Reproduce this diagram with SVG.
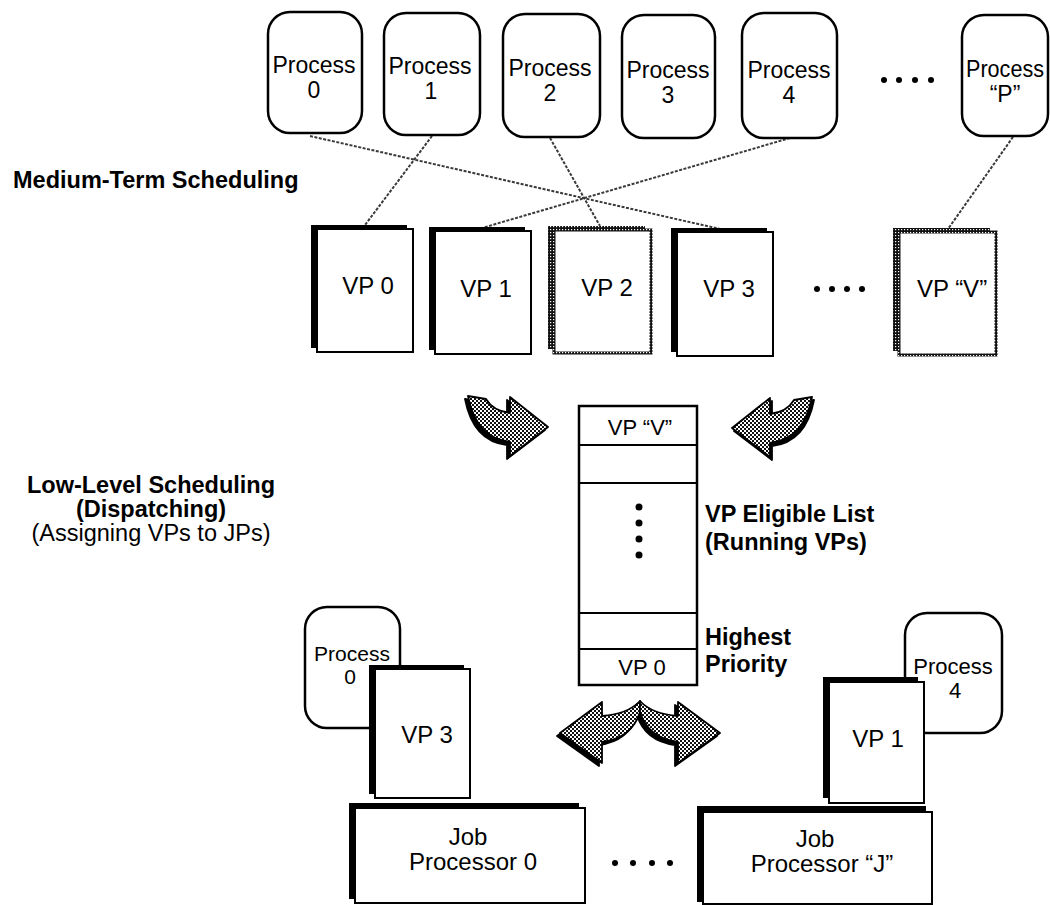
<svg xmlns="http://www.w3.org/2000/svg" width="1050" height="905" viewBox="0 0 1050 905">
  <defs>
    <!-- fine checker used for the halftone grey fills -->
    <pattern id="stip" width="4" height="4" patternUnits="userSpaceOnUse">
      <rect width="4" height="4" fill="#fff"/>
      <rect width="2" height="2" fill="#111"/>
      <rect x="2" y="2" width="2" height="2" fill="#111"/>
    </pattern>
    <!-- dark dotted texture for the stippled VP borders -->
    <pattern id="dotb" width="3" height="3" patternUnits="userSpaceOnUse">
      <rect width="3" height="3" fill="#111"/>
      <rect x="1" y="1" width="1.2" height="1.2" fill="#fff"/>
    </pattern>
  </defs>
  <style>
    text { font-family: "Liberation Sans", Arial, Helvetica, sans-serif; fill: #000; }
    .proc { fill: #fff; stroke: #000; stroke-width: 2.5; }
    .lbl { font-size: 24px; text-anchor: middle; }
    .plbl { font-size: 23px; text-anchor: middle; }
    .lbl22 { font-size: 22px; text-anchor: middle; }
    .lbl21 { font-size: 21px; text-anchor: middle; }
    .bold { font-weight: bold; font-size: 23.5px; }
    .back { fill: #000; }
    .front { fill: #fff; stroke: #000; stroke-width: 2; }
    .sback { fill: url(#dotb); }
    .sfront { fill: #fff; stroke: url(#dotb); stroke-width: 3; }
    .conn { fill: none; stroke: #3a3a3a; stroke-width: 2; stroke-dasharray: 3 1.5; }
    .dot { fill: #000; }
    .arr { fill: url(#stip); stroke: #000; stroke-width: 1.8; stroke-linejoin: round; }
    .arrsh { fill: #000; stroke: #000; stroke-width: 1.8; stroke-linejoin: round; }
    .list { fill: #fff; stroke: #000; stroke-width: 2.5; }
    .div { stroke: #000; stroke-width: 2; }
  </style>

  <!-- side captions -->
  <g id="captions">
    <text class="bold" x="13" y="188">Medium-Term Scheduling</text>
    <text class="bold" x="151" y="493" text-anchor="middle">Low-Level Scheduling</text>
    <text class="bold" x="151" y="517" text-anchor="middle">(Dispatching)</text>
    <text x="151" y="541" font-size="23.5" text-anchor="middle">(Assigning VPs to JPs)</text>
  </g>

  <!-- mapping lines between processes and virtual processors -->
  <g id="connectors">
    <line class="conn" x1="310" y1="136" x2="720" y2="229"/>
    <line class="conn" x1="432" y1="136" x2="365" y2="225"/>
    <line class="conn" x1="550" y1="138" x2="600" y2="226"/>
    <line class="conn" x1="790" y1="138" x2="482" y2="228"/>
    <line class="conn" x1="1013" y1="137" x2="948" y2="229"/>
  </g>

  <!-- processes -->
  <g id="process-0">
    <rect class="proc" x="268" y="12" width="94" height="121" rx="22"/>
    <text class="plbl" x="314" y="73">Process</text>
    <text class="plbl" x="314" y="98">0</text>
  </g>
  <g id="process-1">
    <rect class="proc" x="384" y="13" width="96" height="122" rx="22"/>
    <text class="plbl" x="430" y="74">Process</text>
    <text class="plbl" x="431" y="99">1</text>
  </g>
  <g id="process-2">
    <rect class="proc" x="503" y="14" width="97" height="123" rx="22"/>
    <text class="plbl" x="550" y="76">Process</text>
    <text class="plbl" x="550" y="101">2</text>
  </g>
  <g id="process-3">
    <rect class="proc" x="622" y="15" width="93" height="123" rx="22"/>
    <text class="plbl" x="668" y="78">Process</text>
    <text class="plbl" x="668" y="103">3</text>
  </g>
  <g id="process-4">
    <rect class="proc" x="742" y="13" width="95" height="125" rx="22"/>
    <text class="plbl" x="789" y="78">Process</text>
    <text class="plbl" x="789" y="103">4</text>
  </g>
  <g id="process-p">
    <rect class="proc" x="962" y="15" width="86" height="121" rx="22"/>
    <text class="plbl" x="1005" y="77" textLength="78" lengthAdjust="spacingAndGlyphs">Process</text>
    <text class="plbl" x="1005" y="102">&#8220;P&#8221;</text>
  </g>
  <g id="process-dots">
    <circle class="dot" cx="884" cy="80" r="3"/>
    <circle class="dot" cx="899" cy="80" r="3"/>
    <circle class="dot" cx="915" cy="80" r="3"/>
    <circle class="dot" cx="931" cy="80" r="3"/>
  </g>

  <!-- virtual processors -->
  <g id="vp-0">
    <rect class="back" x="311" y="225" width="96" height="123"/>
    <rect class="front" x="317" y="229" width="96" height="123"/>
    <text class="lbl" x="368" y="294">VP 0</text>
  </g>
  <g id="vp-1">
    <rect class="back" x="429" y="227" width="96" height="123"/>
    <rect class="front" x="435" y="231" width="96" height="123"/>
    <text class="lbl" x="486" y="297">VP 1</text>
  </g>
  <g id="vp-2">
    <rect class="sback" x="548" y="226" width="97" height="123"/>
    <rect class="sfront" x="554" y="230" width="97" height="123"/>
    <text class="lbl" x="607" y="296">VP 2</text>
  </g>
  <g id="vp-3">
    <rect class="back" x="671" y="228" width="96" height="124"/>
    <rect class="front" x="677" y="232" width="96" height="124"/>
    <text class="lbl" x="729" y="297">VP 3</text>
  </g>
  <g id="vp-v">
    <rect class="sback" x="893" y="228" width="97" height="123"/>
    <rect class="sfront" x="899" y="232" width="97" height="123"/>
    <text class="lbl" x="952" y="297">VP &#8220;V&#8221;</text>
  </g>
  <g id="vp-dots">
    <circle class="dot" cx="817" cy="289" r="3"/>
    <circle class="dot" cx="832" cy="289" r="3"/>
    <circle class="dot" cx="847" cy="289" r="3"/>
    <circle class="dot" cx="862" cy="289" r="3"/>
  </g>

  <!-- curved halftone arrows feeding the eligible list -->
  <g id="arrow-in-left">
    <path class="arrsh" transform="translate(-3,3)" d="M468,396 L486,399 Q493,411 510,413 L510,397 L548,427 L510,456 L510,442 Q476,438 468,396 Z"/>
    <path class="arr" d="M468,396 L486,399 Q493,411 510,413 L510,397 L548,427 L510,456 L510,442 Q476,438 468,396 Z"/>
  </g>
  <g id="arrow-in-right">
    <path class="arrsh" transform="translate(2,3)" d="M812,397 L794,400 Q787,412 770,414 L770,398 L732,428 L770,457 L770,443 Q804,439 812,397 Z"/>
    <path class="arr" d="M812,397 L794,400 Q787,412 770,414 L770,398 L732,428 L770,457 L770,443 Q804,439 812,397 Z"/>
  </g>

  <!-- VP eligible list -->
  <g id="eligible-list">
    <rect class="list" x="579" y="406" width="118" height="279"/>
    <line class="div" x1="579" y1="445" x2="697" y2="445"/>
    <line class="div" x1="579" y1="483" x2="697" y2="483"/>
    <line class="div" x1="579" y1="613" x2="697" y2="613"/>
    <line class="div" x1="579" y1="649" x2="697" y2="649"/>
    <text class="lbl22" x="640" y="435">VP &#8220;V&#8221;</text>
    <circle class="dot" cx="639" cy="507" r="3.5"/>
    <circle class="dot" cx="639" cy="523" r="3.5"/>
    <circle class="dot" cx="639" cy="539" r="3.5"/>
    <circle class="dot" cx="639" cy="555" r="3.5"/>
    <text class="lbl22" x="642" y="675">VP 0</text>
    <text class="bold" x="705" y="522">VP Eligible List</text>
    <text class="bold" x="705" y="550">(Running VPs)</text>
    <text class="bold" x="705" y="645">Highest</text>
    <text class="bold" x="705" y="672">Priority</text>
  </g>

  <!-- dispatch arrows -->
  <g id="arrow-out">
    <path class="arrsh" transform="translate(-3,3)" d="M640,701 Q628,714 602,716 L602,702 L560,733 L602,763 L602,742 Q632,738 640,712 Z"/>
    <path class="arrsh" transform="translate(-3,3)" d="M640,701 Q652,714 678,716 L678,702 L720,733 L678,763 L678,742 Q648,738 640,712 Z"/>
    <path class="arr" d="M640,701 Q628,714 602,716 L602,702 L560,733 L602,763 L602,742 Q632,738 640,712 Z"/>
    <path class="arr" d="M640,701 Q652,714 678,716 L678,702 L720,733 L678,763 L678,742 Q648,738 640,712 Z"/>
  </g>

  <!-- running process 0 on VP 3 -->
  <g id="running-process-0">
    <rect class="proc" x="305" y="607" width="95" height="121" rx="22"/>
  </g>
  <g id="running-vp-3">
    <rect class="back" x="369" y="665" width="95" height="129"/>
    <rect class="front" x="375" y="669" width="95" height="129"/>
    <text class="lbl" x="427" y="743">VP 3</text>
  </g>
  <g id="running-process-0-label">
    <text class="lbl21" x="352" y="661">Process</text>
    <text class="lbl21" x="350" y="684">0</text>
  </g>

  <!-- running process 4 on VP 1 -->
  <g id="running-process-4">
    <rect class="proc" x="905" y="613" width="97" height="120" rx="22"/>
    <text class="lbl22" x="953" y="674">Process</text>
    <text class="lbl22" x="955" y="698">4</text>
  </g>
  <g id="running-vp-1">
    <rect class="back" x="823" y="677" width="95" height="121"/>
    <rect class="front" x="829" y="682" width="95" height="121"/>
    <text class="lbl" x="878" y="747">VP 1</text>
  </g>

  <!-- job processors -->
  <g id="job-processor-0">
    <rect class="back" x="349" y="803" width="230" height="96"/>
    <rect class="front" x="355" y="808" width="230" height="95"/>
    <text class="lbl" x="468" y="845">Job</text>
    <text class="lbl" x="473" y="870">Processor 0</text>
  </g>
  <g id="jp-dots">
    <circle class="dot" cx="615" cy="863" r="3"/>
    <circle class="dot" cx="633" cy="863" r="3"/>
    <circle class="dot" cx="652" cy="863" r="3"/>
    <circle class="dot" cx="670" cy="863" r="3"/>
  </g>
  <g id="job-processor-j">
    <rect class="back" x="697" y="806" width="229" height="96"/>
    <rect class="front" x="703" y="812" width="229" height="92"/>
    <text class="lbl" x="815" y="847">Job</text>
    <text class="lbl" x="822" y="872">Processor &#8220;J&#8221;</text>
  </g>
</svg>
